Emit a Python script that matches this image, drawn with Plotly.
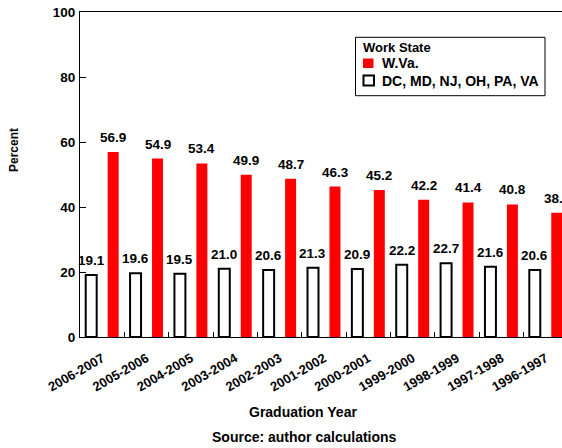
import plotly.graph_objects as go

years = ["2006-2007", "2005-2006", "2004-2005", "2003-2004", "2002-2003", "2001-2002",
         "2000-2001", "1999-2000", "1998-1999", "1997-1998", "1996-1997"]
wva = [56.9, 54.9, 53.4, 49.9, 48.7, 46.3, 45.2, 42.2, 41.4, 40.8, 38.2]
others = [19.1, 19.6, 19.5, 21.0, 20.6, 21.3, 20.9, 22.2, 22.7, 21.6, 20.6]
series_names = ["W.Va.", "DC, MD, NJ, OH, PA, VA"]
legend_title = "Work State"

FONT = "Liberation Sans, Arial, sans-serif"
RED = "#ff0000"
label_font = dict(family=FONT, size=13.5, color="black", weight="bold")

W, H = 562, 448
ML, MT, MR = 80, 12, 0
PLOT_BOTTOM = 337
MB = H - PLOT_BOTTOM
plot_w = W - ML - MR
plot_h = H - MT - MB
band_px = 44.36  # width of one category band in the original chart
x_end = -0.5 + plot_w / band_px
slot_px = band_px / 2


def px(x):  # page x -> paper
    return (x - ML) / plot_w


def py(y):  # page y -> paper
    return (PLOT_BOTTOM - y) / plot_h


fig = go.Figure()
fig.add_trace(go.Bar(
    x=years, y=others, name=series_names[1],
    marker=dict(color="white", line=dict(color="black", width=2)),
))
fig.add_trace(go.Bar(
    x=years, y=wva, name=series_names[0],
    marker=dict(color=RED, line=dict(width=0)),
))

# Value labels above bars (anchored to data coords)
for vals, shift in ((others, -slot_px / 2), (wva, slot_px / 2)):
    for cat, v in zip(years, vals):
        fig.add_annotation(x=cat, y=v, text=f"{v:.1f}", showarrow=False,
                           xshift=shift, yshift=5, yanchor="bottom", xanchor="center",
                           font=label_font)

fig.update_layout(
    width=W, height=H,
    margin=dict(l=ML, r=MR, t=MT, b=MB, autoexpand=False),
    paper_bgcolor="white", plot_bgcolor="white",
    barmode="group", bargap=0.01, bargroupgap=0.5,
    font=dict(family=FONT, color="black"),
    showlegend=False,
)
fig.update_xaxes(
    range=[-0.5, x_end], showline=True, linecolor="black", linewidth=1, mirror=True,
    ticks="inside", tickson="boundaries", ticklen=5, tickcolor="black",
    tickangle=-30, tickfont=dict(family=FONT, size=13, weight="bold"),
    ticklabelstandoff=8, ticklabeloverflow="allow",
    showgrid=False, zeroline=False, automargin=False,
)
fig.update_yaxes(
    range=[0, 100], dtick=20, showline=True, linecolor="black", linewidth=1,
    ticks="inside", ticklen=6, tickcolor="black", ticklabelstandoff=1,
    ticklabeloverflow="allow",
    tickfont=dict(family=FONT, size=13.5, weight="bold"),
    showgrid=False, zeroline=False, automargin=False,
)

# Axis titles and source note
fig.add_annotation(text="Percent", xref="paper", yref="paper", x=px(14), y=py(150),
                   textangle=-90, showarrow=False,
                   font=dict(family=FONT, size=12, weight="bold"),
                   xanchor="center", yanchor="middle")
fig.add_annotation(text="Graduation Year", xref="paper", yref="paper",
                   x=px(302.5), y=py(412), showarrow=False,
                   font=dict(family=FONT, size=14, weight="bold"),
                   xanchor="center", yanchor="middle")
fig.add_annotation(text="Source: author calculations", xref="paper", yref="paper",
                   x=px(304), y=py(437), showarrow=False,
                   font=dict(family=FONT, size=14, weight="bold"),
                   xanchor="center", yanchor="middle")

# Legend box
fig.add_shape(type="rect", xref="paper", yref="paper",
              x0=px(355.5), x1=px(545), y0=py(95.7), y1=py(37.3),
              line=dict(color="black", width=1), fillcolor="white", layer="above")
fig.add_annotation(text=legend_title, xref="paper", yref="paper", x=px(360.5), y=py(48),
                   showarrow=False, xanchor="left", yanchor="middle",
                   font=dict(family=FONT, size=13, weight="bold"))
fig.add_shape(type="rect", xref="paper", yref="paper",
              x0=px(363), x1=px(373.5), y0=py(68), y1=py(58.5),
              line=dict(width=0), fillcolor=RED, layer="above")
fig.add_shape(type="rect", xref="paper", yref="paper",
              x0=px(363.5), x1=px(374), y0=py(85.5), y1=py(75.5),
              line=dict(color="black", width=2), fillcolor="white", layer="above")
fig.add_annotation(text=series_names[0], xref="paper", yref="paper", x=px(380), y=py(63),
                   showarrow=False, xanchor="left", yanchor="middle",
                   font=dict(family=FONT, size=14, weight="bold"))
fig.add_annotation(text=series_names[1], xref="paper", yref="paper", x=px(379.5), y=py(80.5),
                   showarrow=False, xanchor="left", yanchor="middle",
                   font=dict(family=FONT, size=14, weight="bold"))

fig.write_html("out.html", config={"displayModeBar": False},
               post_script="document.body.style.margin='0';")
